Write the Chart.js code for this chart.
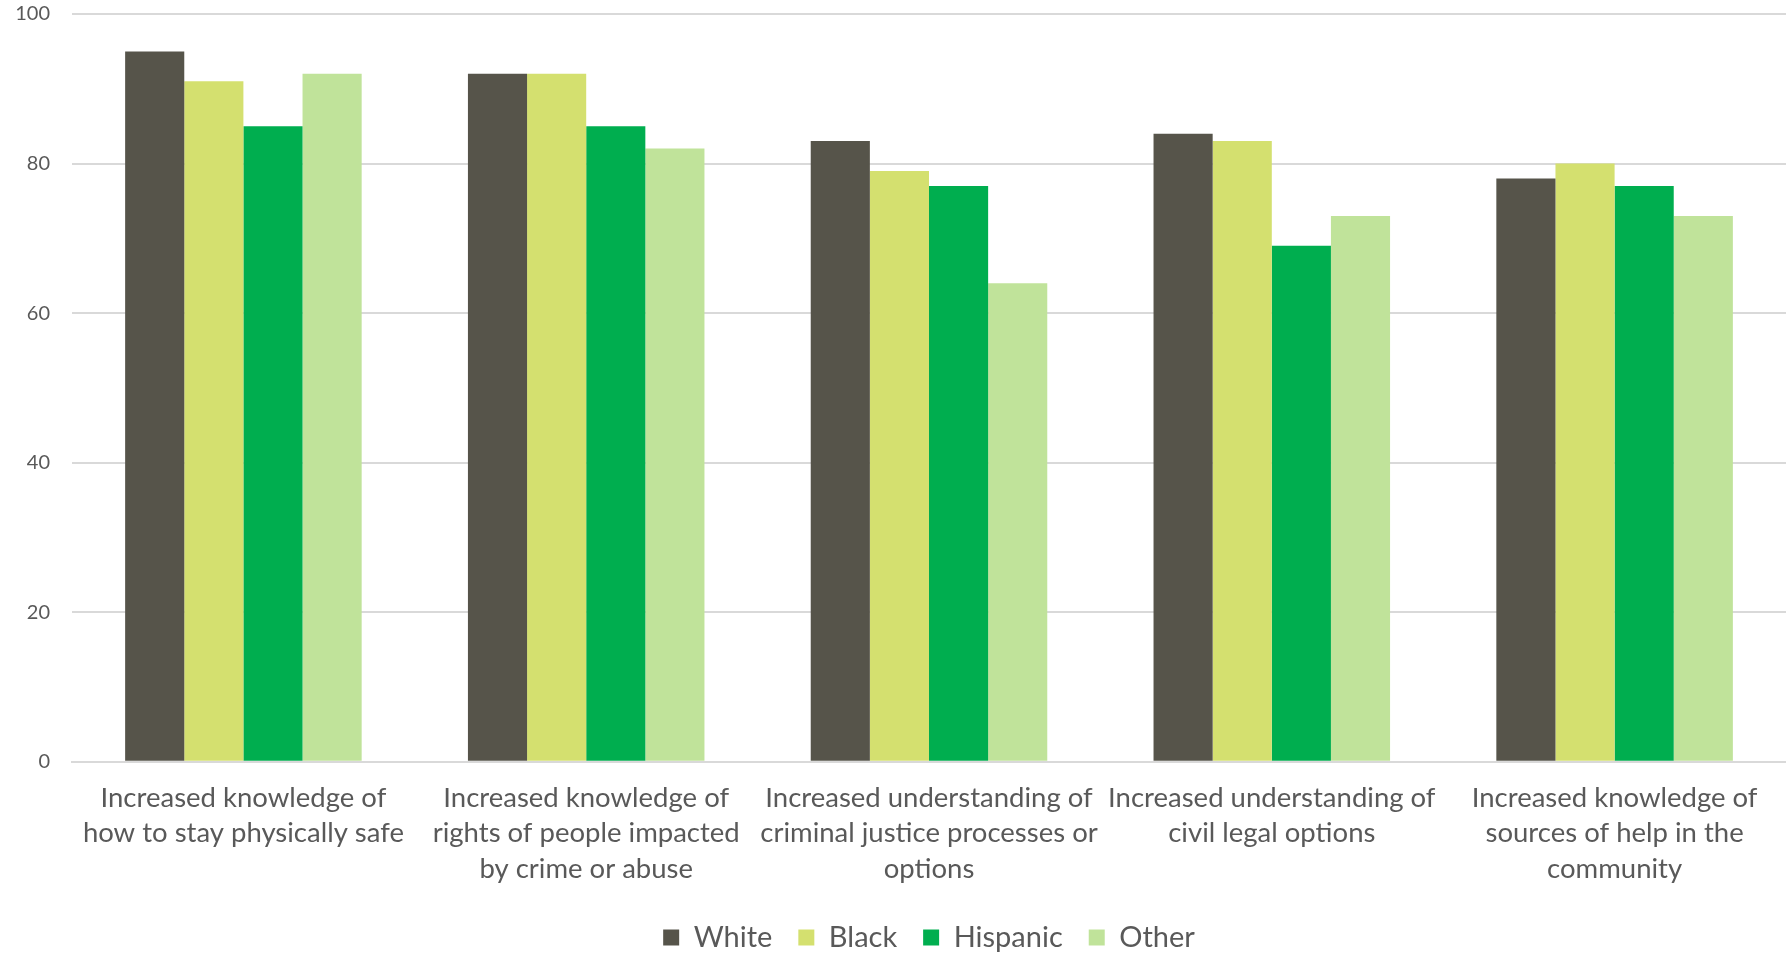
<!DOCTYPE html>
<html>
<head>
<meta charset="utf-8">
<script src="https://cdn.jsdelivr.net/npm/chart.js@4.4.1/dist/chart.umd.min.js"></script>
<style>
  html, body { margin: 0; padding: 0; background: #fff; overflow: hidden; }
  #wrap { width: 1786px; height: 955px; overflow: hidden; }
  #chart { display: block; margin-top: -20px; }
</style>
</head>
<body>
<div id="wrap"><canvas id="chart" width="1786" height="982"></canvas></div>
<script>
// categories (multi-line labels) and values per group
const categories = [
  ['Increased knowledge of', 'how to stay physically safe'],
  ['Increased knowledge of', 'rights of people impacted', 'by crime or abuse'],
  ['Increased understanding of', 'criminal justice processes or', 'options'],
  ['Increased understanding of', 'civil legal options'],
  ['Increased knowledge of', 'sources of help in the', 'community']
];
const white    = [95, 92, 83, 84, 78];
const black    = [91, 92, 79, 83, 80];
const hispanic = [85, 85, 77, 69, 77];
const other    = [92, 82, 64, 73, 73];
const yTicks   = [0, 20, 40, 60, 80, 100];

const FONT = 'Lato, "Open Sans", sans-serif';
const textColor = '#595959';

const ds = (label, data, color) => ({
  label, data,
  backgroundColor: color,
  borderWidth: 0,
  categoryPercentage: 0.69,
  barPercentage: 1.0
});

new Chart(document.getElementById('chart'), {
  type: 'bar',
  data: {
    labels: categories,
    datasets: [
      ds('White', white, '#56544a'),
      ds('Black', black, '#d4e06f'),
      ds('Hispanic', hispanic, '#00ae4f'),
      ds('Other', other, '#c0e39a')
    ]
  },
  options: {
    responsive: false,
    animation: false,
    layout: { padding: { top: 0, right: 0, left: 0, bottom: 0 } },
    plugins: {
      tooltip: { enabled: false },
      legend: {
        position: 'bottom',
        fullSize: false,
        labels: {
          font: { family: FONT, size: 29 },
          color: textColor,
          boxWidth: 16,
          boxHeight: 16,
          padding: 26
        }
      }
    },
    scales: {
      x: {
        grid: { display: false },
        border: { color: '#d9d9d9', width: 2 },
        ticks: {
          autoSkip: false,
          maxRotation: 0,
          color: textColor,
          font: { family: FONT, size: 27.5, lineHeight: 1.3 },
          padding: 10
        }
      },
      y: {
        min: 0,
        max: 100,
        afterBuildTicks: axis => { axis.ticks = yTicks.map(v => ({ value: v })); },
        afterFit: axis => { axis.width = 72; },
        grid: { color: '#d9d9d9', lineWidth: 2, drawTicks: false },
        border: { display: false },
        ticks: {
          color: textColor,
          font: { family: FONT, size: 20 },
          padding: 22
        }
      }
    }
  }
});
</script>
</body>
</html>
